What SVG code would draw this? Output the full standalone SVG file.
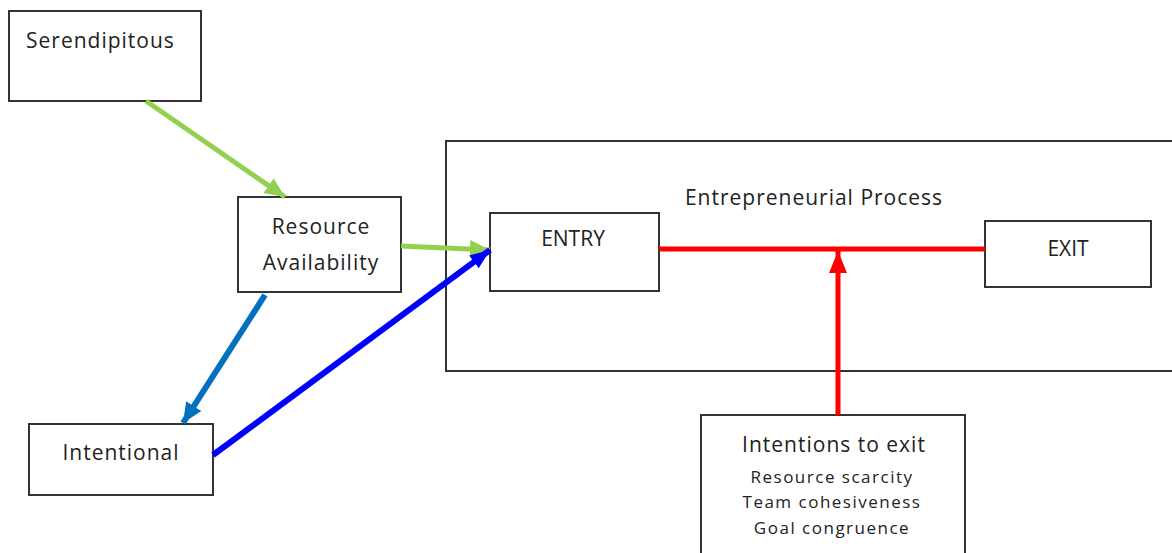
<svg xmlns="http://www.w3.org/2000/svg" width="1172" height="553" viewBox="0 0 1172 553">
<style>
.box{fill:#fff;stroke:#333;stroke-width:2}
.t{font-family:"Open Sans","Liberation Sans",sans-serif;fill:#222}
.big{font-size:21px;letter-spacing:1px}
.cap{font-size:21px}
.sm{font-size:17px;letter-spacing:1.5px}
</style>
<defs>
<marker id="ag" markerUnits="userSpaceOnUse" markerWidth="20" markerHeight="20" viewBox="0 0 20 20" refX="20" refY="10" orient="auto"><path d="M0,1 L20,10 L0,19 Z" fill="#92D050"/></marker>
<marker id="at" markerUnits="userSpaceOnUse" markerWidth="20" markerHeight="20" viewBox="0 0 20 20" refX="20" refY="10" orient="auto"><path d="M0,1 L20,10 L0,19 Z" fill="#0070C0"/></marker>
<marker id="ab" markerUnits="userSpaceOnUse" markerWidth="20" markerHeight="20" viewBox="0 0 20 20" refX="20" refY="10" orient="auto"><path d="M0,2 L20,10 L0,18 Z" fill="#0000FF"/></marker>
<marker id="ar" markerUnits="userSpaceOnUse" markerWidth="22" markerHeight="22" viewBox="0 0 22 22" refX="22" refY="11" orient="auto"><path d="M0,2 L22,11 L0,20 Z" fill="#FF0000"/></marker>
</defs>
<rect width="1172" height="553" fill="#fff"/>
<g id="process">
<rect class="box" x="446" y="141" width="730" height="230"/>
<text class="t big" x="814" y="205" text-anchor="middle">Entrepreneurial Process</text>
</g>
<g id="serendipitous">
<rect class="box" x="9" y="11" width="192" height="90"/>
<text class="t big" x="26" y="48">Serendipitous</text>
</g>
<g id="resource">
<rect class="box" x="238" y="197" width="163" height="95"/>
<text class="t big" x="321" y="234" text-anchor="middle">Resource</text>
<text class="t big" x="321" y="270" text-anchor="middle">Availability</text>
</g>
<g id="intentional">
<rect class="box" x="29" y="424" width="184" height="71"/>
<text class="t big" x="121" y="460" text-anchor="middle">Intentional</text>
</g>
<g id="entry">
<rect class="box" x="490" y="213" width="169" height="78"/>
<text class="t cap" x="573" y="246" text-anchor="middle">ENTRY</text>
</g>
<g id="exit">
<rect class="box" x="985" y="221" width="166" height="66"/>
<text class="t cap" x="1068" y="256" text-anchor="middle">EXIT</text>
</g>
<g id="intentions">
<rect class="box" x="701" y="415" width="264" height="145"/>
<text class="t big" x="834" y="452" text-anchor="middle">Intentions to exit</text>
<text class="t sm" x="832" y="483" text-anchor="middle">Resource scarcity</text>
<text class="t sm" x="832" y="508" text-anchor="middle">Team cohesiveness</text>
<text class="t sm" x="832" y="534" text-anchor="middle">Goal congruence</text>
</g>
<g id="connectors" fill="none">
<line x1="146" y1="101" x2="285" y2="197" stroke="#92D050" stroke-width="5" marker-end="url(#ag)"/>
<line x1="401" y1="246" x2="490" y2="250" stroke="#92D050" stroke-width="5" marker-end="url(#ag)"/>
<line x1="265" y1="295" x2="183" y2="423" stroke="#0070C0" stroke-width="6" marker-end="url(#at)"/>
<line x1="213" y1="455" x2="490" y2="250" stroke="#0000FF" stroke-width="6" marker-end="url(#ab)"/>
<line x1="659" y1="249" x2="985" y2="249" stroke="#FF0000" stroke-width="5"/>
<line x1="838" y1="415" x2="838" y2="251" stroke="#FF0000" stroke-width="5" marker-end="url(#ar)"/>
</g>
</svg>
